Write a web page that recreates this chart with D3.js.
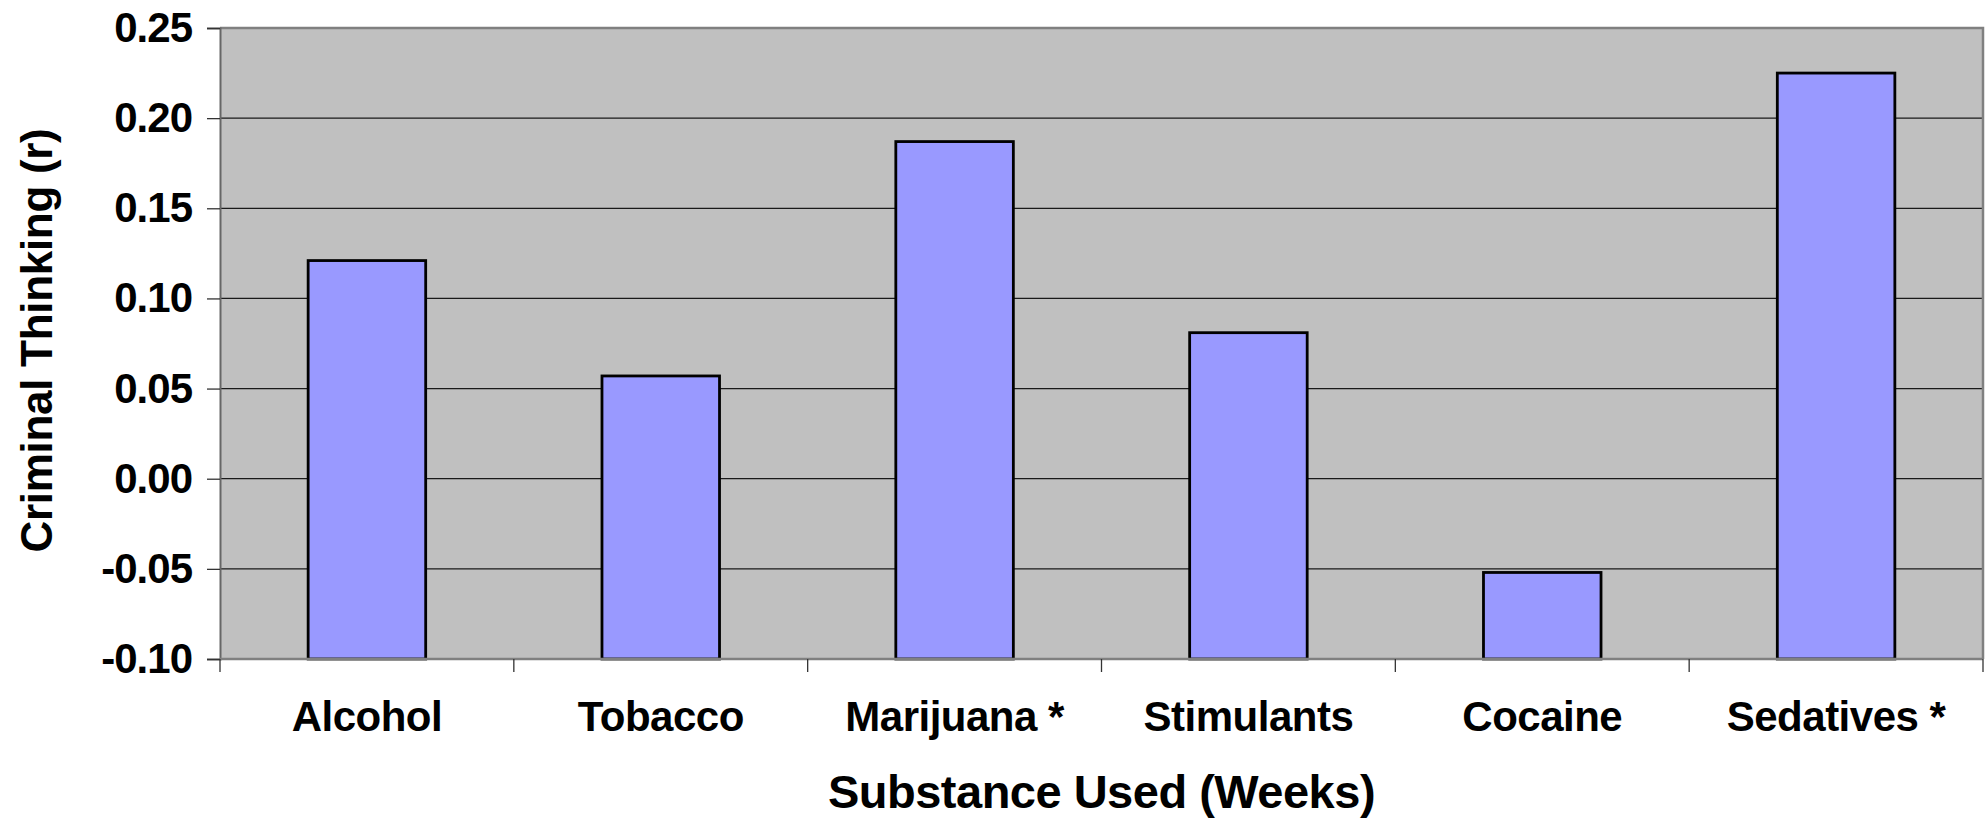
<!DOCTYPE html>
<html>
<head>
<meta charset="utf-8">
<script src="https://cdn.jsdelivr.net/npm/d3@7"></script>
<style>
  html, body { margin: 0; padding: 0; background: #ffffff; }
  svg { display: block; }
  text { font-family: "Liberation Sans", Arial, Helvetica, sans-serif; font-weight: bold; fill: #000; }
</style>
</head>
<body>
<svg id="chart" width="1988" height="819"></svg>
<script>
// Correlation of weeks of substance use with criminal thinking
const categories = ["Alcohol", "Tobacco", "Marijuana *", "Stimulants", "Cocaine", "Sedatives *"];
const values = [0.121, 0.057, 0.187, 0.081, -0.052, 0.225];
const yTicks = [-0.10, -0.05, 0.00, 0.05, 0.10, 0.15, 0.20, 0.25];
const yDomain = [-0.10, 0.25];
const xTitle = "Substance Used (Weeks)";
const yTitle = "Criminal Thinking (r)";

const svg = d3.select("#chart");
const plot = { left: 220, right: 1983, top: 28, bottom: 659 };

const x = d3.scaleBand()
  .domain(categories)
  .range([plot.left, plot.right])
  .paddingInner(0.6)
  .paddingOuter(0.3);

const y = d3.scaleLinear()
  .domain(yDomain)
  .range([plot.bottom, plot.top]);

// plot area background
svg.append("rect")
  .attr("x", plot.left).attr("y", plot.top)
  .attr("width", plot.right - plot.left)
  .attr("height", plot.bottom - plot.top)
  .attr("fill", "#c0c0c0");

// horizontal gridlines
svg.append("g")
  .selectAll("line")
  .data(yTicks.slice(1, -1))
  .join("line")
  .attr("x1", plot.left).attr("x2", plot.right)
  .attr("y1", d => y(d)).attr("y2", d => y(d))
  .attr("stroke", "#1a1a1a")
  .attr("stroke-width", 1.2);

// plot border (top and right)
svg.append("path")
  .attr("d", `M${plot.left},${plot.top}H${plot.right}V${plot.bottom}`)
  .attr("fill", "none")
  .attr("stroke", "#808080")
  .attr("stroke-width", 2.5);

// bars rise from the bottom of the value axis
const base = yDomain[0];
svg.append("g")
  .selectAll("rect")
  .data(categories.map((c, i) => ({ c, v: values[i] })))
  .join("rect")
  .attr("x", d => x(d.c))
  .attr("width", x.bandwidth())
  .attr("y", d => y(d.v))
  .attr("height", d => y(base) - y(d.v))
  .attr("fill", "#9999ff")
  .attr("stroke", "#000")
  .attr("stroke-width", 2.8);

// value axis, labels with a plain hyphen for negatives
const fmt = d3.format(".2f");
const yAxis = d3.axisLeft(y)
  .tickValues(yTicks)
  .tickFormat(d => fmt(d).replace("\u2212", "-"))
  .tickSize(13)
  .tickPadding(15);

const gy = svg.append("g")
  .attr("transform", `translate(${plot.left},0)`)
  .call(yAxis);
gy.select(".domain").attr("stroke", "#666").attr("stroke-width", 2);
gy.selectAll(".tick line").attr("stroke", "#333").attr("stroke-width", 1.3);
gy.selectAll(".tick text")
  .attr("font-family", "Liberation Sans, Arial, sans-serif")
  .attr("font-weight", "bold")
  .attr("font-size", 42)
  .attr("letter-spacing", "-1px")
  .attr("fill", "#000");

// category axis: ticks sit on the category boundaries
const boundX = d3.range(categories.length + 1)
  .map(i => x.range()[0] + i * (x.range()[1] - x.range()[0]) / categories.length);

svg.append("line")
  .attr("x1", plot.left).attr("x2", plot.right)
  .attr("y1", plot.bottom).attr("y2", plot.bottom)
  .attr("stroke", "#808080")
  .attr("stroke-width", 2.5);

svg.append("g")
  .selectAll("line")
  .data(boundX)
  .join("line")
  .attr("x1", d => d).attr("x2", d => d)
  .attr("y1", plot.bottom).attr("y2", plot.bottom + 13)
  .attr("stroke", "#333")
  .attr("stroke-width", 1.3);

svg.append("g")
  .selectAll("text")
  .data(categories)
  .join("text")
  .attr("x", d => x(d) + x.bandwidth() / 2)
  .attr("y", 731)
  .attr("text-anchor", "middle")
  .attr("font-size", 42)
  .attr("letter-spacing", "-0.5px")
  .text(d => d);

// axis titles
svg.append("text")
  .attr("x", (plot.left + plot.right) / 2)
  .attr("y", 808)
  .attr("text-anchor", "middle")
  .attr("font-size", 47)
  .attr("letter-spacing", "-0.5px")
  .text(xTitle);

svg.append("text")
  .attr("transform", `translate(52,${(plot.top + plot.bottom) / 2 - 3}) rotate(-90)`)
  .attr("text-anchor", "middle")
  .attr("font-size", 44)
  .attr("letter-spacing", "-0.3px")
  .text(yTitle);
</script>
</body>
</html>
